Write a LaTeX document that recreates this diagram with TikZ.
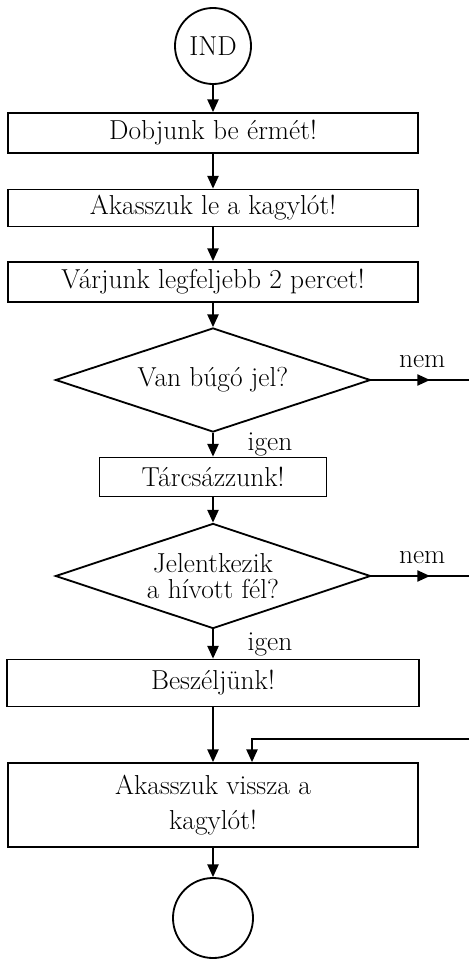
\documentclass[tikz,border=0pt]{standalone}
\usepackage{fontspec}
\usetikzlibrary{shapes.geometric,arrows.meta,positioning,decorations.markings}

\begin{document}
\begin{tikzpicture}[x=0.025cm, y=-0.025cm,
    font=\fontsize{19.5}{22}\selectfont\addfontfeature{LetterSpace=3},
    box/.style={rectangle, draw, line width=1.3pt, minimum width=10.25cm,
                minimum height=1cm, align=center, inner sep=0pt},
    decision/.style={diamond, draw, line width=1.3pt, aspect=3.03,
                minimum width=7.875cm, minimum height=2.6cm, align=center, inner sep=0pt},
    terminal/.style={circle, draw, line width=1.3pt, minimum size=1.9cm, inner sep=0pt},
    lbl/.style={inner sep=0pt},
    arrow/.style={-{Triangle[length=9pt,width=8pt]}, line width=1pt},
    midarrow/.style={line width=1pt, postaction={decorate, decoration={markings,
                mark=at position #1 with {\arrow{Triangle[length=9pt,width=8pt]}}}}}]

\useasboundingbox (0,0) rectangle (469,959);

\node[terminal] (ind) at (213,46) {IND};
\node[box] (erme) at (213,133) {Dobjunk be érmét!};
\node[box, minimum height=0.925cm] (kagylo) at (213,208) {Akasszuk le a kagylót!};
\node[box] (var) at (213,282) {Várjunk legfeljebb 2 percet!};
\node[decision] (bugo) at (213,380) {Van búgó jel?};
\node[box, minimum width=5.675cm, minimum height=0.975cm] (tarcsa) at (213,477) {Tárcsázzunk!};
\node[decision, minimum height=2.625cm,
      font=\fontsize{19.5}{19}\selectfont\addfontfeature{LetterSpace=3}] (hivott) at (213,576) {Jelentkezik\\a hívott fél?};
\node[box, minimum width=10.3cm, minimum height=1.175cm] (beszel) at (213,683) {Beszéljünk!};
\node[box, minimum height=2.1cm,
      font=\fontsize{19.5}{25}\selectfont\addfontfeature{LetterSpace=3}] (vissza) at (213,805) {Akasszuk vissza a\\kagylót!};
\node[terminal, minimum size=2cm] (veg) at (213,918) {};

% free ends at the right edge
\coordinate (nem1) at (469,380);
\coordinate (nem2) at (469,576);
\coordinate (vissz) at (469,739);

\draw[arrow] (ind) -- (erme);
\draw[arrow] (erme) -- (kagylo);
\draw[arrow] (kagylo) -- (var);
\draw[arrow] (var) -- (bugo);
\draw[arrow] (bugo) -- node[lbl, right=0.85cm] {igen} (tarcsa);
\draw[arrow] (tarcsa) -- (hivott);
\draw[arrow] (hivott) -- node[lbl, right=0.85cm] {igen} (beszel);
\draw[arrow] (beszel) -- (vissza);
\draw[arrow] (vissza) -- (veg);

\draw[midarrow=0.6] (bugo.east) -- node[lbl, above=0.3cm, pos=0.52] {nem} (nem1);
\draw[midarrow=0.6] (hivott.east) -- node[lbl, above=0.3cm, pos=0.52] {nem} (nem2);
\draw[arrow] (vissz) -| ([xshift=0.975cm]vissza.north);
\end{tikzpicture}
\end{document}
